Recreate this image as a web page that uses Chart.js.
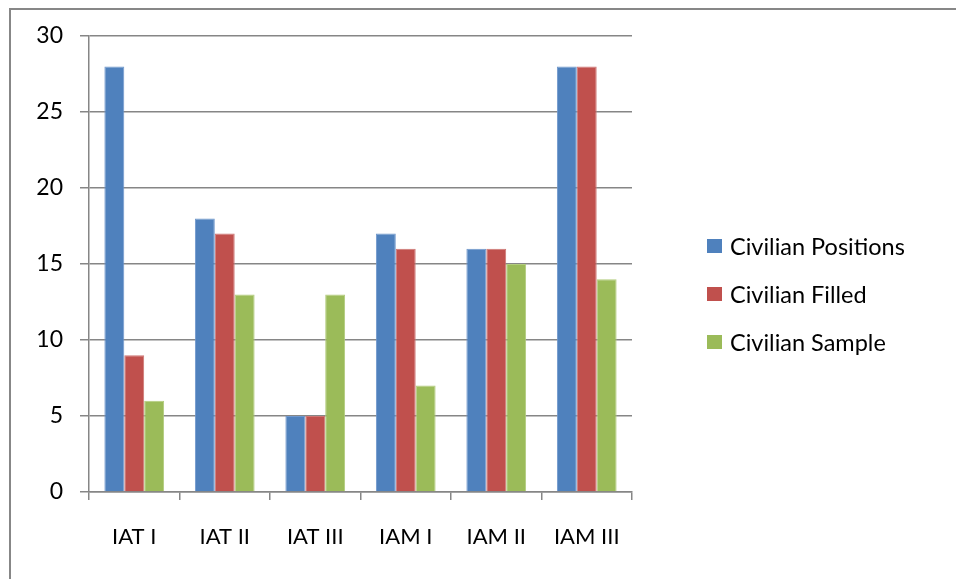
<!DOCTYPE html>
<html>
<head>
<meta charset="utf-8">
<script src="https://cdn.jsdelivr.net/npm/chart.js@4/dist/chart.umd.min.js"></script>
<style>
  html, body { margin: 0; padding: 0; background: #ffffff; }
  #wrap { width: 956px; height: 579px; position: relative; }
</style>
</head>
<body>
<div id="wrap"><canvas id="c" width="956" height="579"></canvas></div>
<script>
// Civilian staffing by unit
const categories = ['IAT I', 'IAT II', 'IAT III', 'IAM I', 'IAM II', 'IAM III'];
const civilianPositions = [28, 18, 5, 17, 16, 28];
const civilianFilled = [9, 17, 5, 16, 16, 28];
const civilianSample = [6, 13, 13, 7, 15, 14];
const seriesNames = ['Civilian Positions', 'Civilian Filled', 'Civilian Sample'];
const yTicks = [0, 5, 10, 15, 20, 25, 30];

const seriesColors = ['#4F81BD', '#C0504D', '#9BBB59'];
const seriesEdges = ['#6f97cc', '#cd7573', '#b2cc7d'];
const axisGray = '#868686';
const FONT = 'Lato, "Open Sans", sans-serif';

// Frame around the whole chart
const framePlugin = {
  id: 'frame',
  beforeDraw(chart) {
    const ctx = chart.ctx;
    ctx.save();
    ctx.fillStyle = '#ffffff';
    ctx.fillRect(0, 0, chart.width, chart.height);
    ctx.strokeStyle = '#878787';
    ctx.lineWidth = 2;
    ctx.strokeRect(10, 9, chart.width + 20, chart.height + 20);
    ctx.restore();
  }
};

// Legend list to the right of the plot
const sideLegend = {
  id: 'sideLegend',
  afterDraw(chart) {
    const ctx = chart.ctx;
    ctx.save();
    ctx.font = '23.5px ' + FONT;
    ctx.textBaseline = 'middle';
    ctx.textAlign = 'left';
    chart.data.datasets.forEach((ds, i) => {
      const y = 246 + i * 48;
      ctx.fillStyle = ds.backgroundColor;
      ctx.fillRect(707, y - 7, 15, 14);
      ctx.fillStyle = '#000000';
      ctx.fillText(ds.label, 730, y + 1);
    });
    ctx.restore();
  }
};

const seriesValues = [civilianPositions, civilianFilled, civilianSample];

new Chart(document.getElementById('c'), {
  type: 'bar',
  data: {
    labels: categories,
    datasets: seriesValues.map((vals, i) => ({
      label: seriesNames[i],
      data: vals,
      backgroundColor: seriesColors[i],
      borderColor: seriesEdges[i],
      borderWidth: 1,
      borderSkipped: 'bottom',
      categoryPercentage: 0.66,
      barPercentage: 1.0
    }))
  },
  options: {
    responsive: false,
    animation: false,
    events: [],
    layout: { padding: { left: 0, top: 36, right: 324, bottom: 0 } },
    plugins: {
      legend: { display: false },
      tooltip: { enabled: false }
    },
    scales: {
      x: {
        afterFit(scale) { scale.height = 87; },
        grid: {
          offset: true,
          drawOnChartArea: false,
          drawTicks: true,
          tickLength: 8,
          color: axisGray,
          lineWidth: 1.5
        },
        border: { display: true, color: axisGray, width: 1.5 },
        ticks: {
          color: '#000000',
          font: { family: FONT, size: 22 },
          padding: 24,
          maxRotation: 0
        }
      },
      y: {
        min: 0,
        max: 30,
        afterFit(scale) { scale.width = 89; },
        afterBuildTicks(scale) { scale.ticks = yTicks.map(v => ({ value: v })); },
        grid: {
          color: axisGray,
          lineWidth: 1.5,
          drawTicks: true,
          tickLength: 9
        },
        border: { display: true, color: axisGray, width: 1.5 },
        ticks: {
          color: '#000000',
          font: { family: FONT, size: 23 },
          padding: 17
        }
      }
    }
  },
  plugins: [framePlugin, sideLegend]
});
</script>
</body>
</html>
